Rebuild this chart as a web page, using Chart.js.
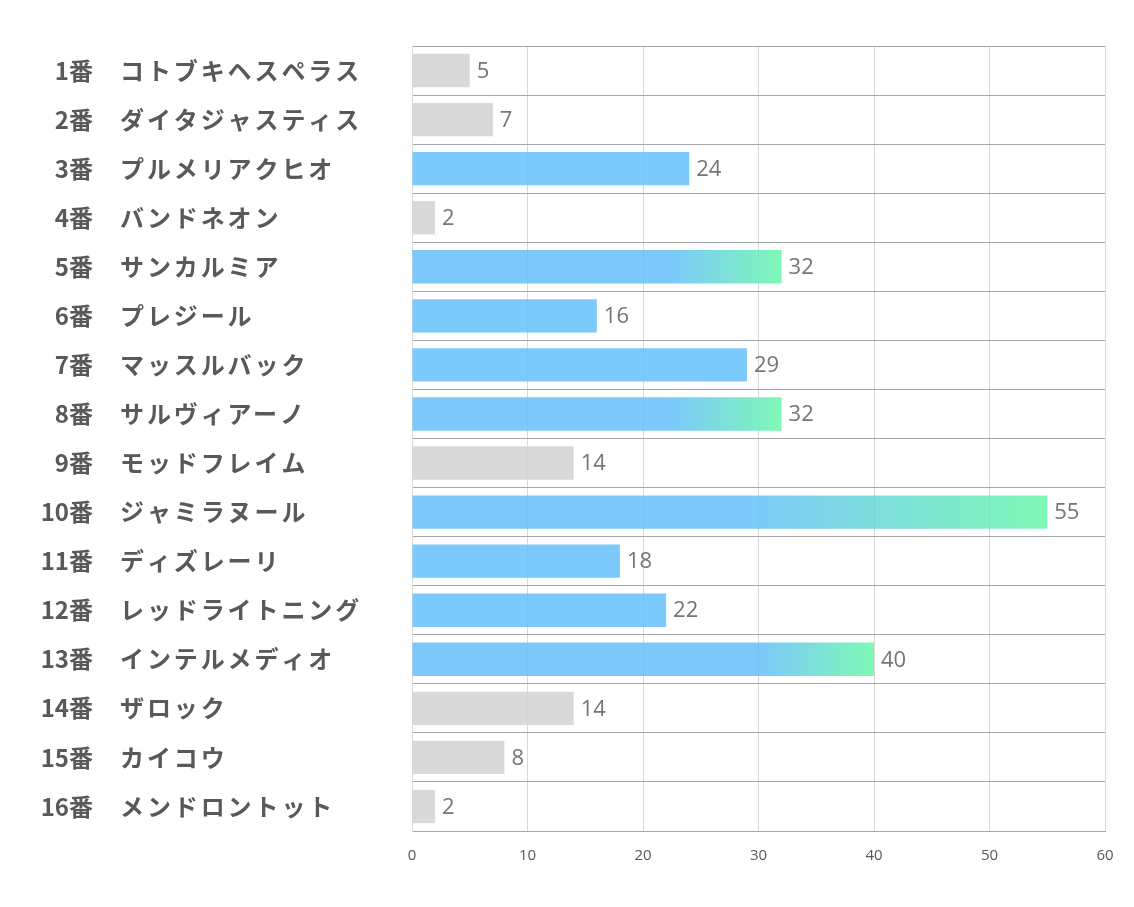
<!DOCTYPE html>
<html><head><meta charset="utf-8">
<script src="https://cdn.jsdelivr.net/npm/chart.js@4"></script>
<style>html,body{margin:0;padding:0;background:#fff}#wrap{width:1134px;height:907px}</style>
</head><body><div id="wrap"><canvas id="c" width="1134" height="907"></canvas></div>
<script>
const numbers = ['1番','2番','3番','4番','5番','6番','7番','8番','9番','10番','11番','12番','13番','14番','15番','16番'];
const names = ['コトブキヘスペラス','ダイタジャスティス','プルメリアクヒオ','バンドネオン','サンカルミア','プレジール','マッスルバック','サルヴィアーノ','モッドフレイム','ジャミラヌール','ディズレーリ','レッドライトニング','インテルメディオ','ザロック','カイコウ','メンドロントット'];
const values = [5,7,24,2,32,16,29,32,14,55,18,22,40,14,8,2];
const xTicks = [0,10,20,30,40,50,60];
// style: 0 gray, 1 blue, 2 blue→green gradient
const barStyle = [0,0,1,0,2,1,1,2,0,2,1,1,2,0,0,0];
const gradStart = {4:0.70, 7:0.70, 9:0.52, 12:0.75};

const GRAY='rgba(210,210,210,0.85)', BLUE='rgba(101,191,250,0.85)', GREEN='rgba(104,247,169,0.85)';
const JP = '"Noto Sans CJK JP","Noto Sans",sans-serif';

const labelPlugin = {
  id:'labels',
  afterDraw(chart){
    const ctx = chart.ctx, ys = chart.scales.y, xs = chart.scales.x;
    ctx.save();
    ctx.textBaseline='middle';
    ctx.fillStyle='#595959';
    ctx.font='bold 24px '+JP;
    numbers.forEach((n,i)=>{
      const y = ys.getPixelForValue(i);
      ctx.textAlign='right';
      ctx.letterSpacing='0px';
      ctx.fillText(n, 93, y);
      ctx.textAlign='left';
      ctx.letterSpacing='2.9px';
      ctx.fillText(names[i], 120, y);
    });
    ctx.letterSpacing='0px';
    ctx.font='22px "Open Sans",sans-serif';
    ctx.fillStyle='#757575';
    ctx.textAlign='left';
    values.forEach((v,i)=>{
      const y = ys.getPixelForValue(i);
      ctx.fillText(String(v), xs.getPixelForValue(v)+7, y+1);
    });
    ctx.restore();
  }
};

new Chart(document.getElementById('c'), {
  type:'bar',
  data:{labels:names, datasets:[{
    data:values,
    barPercentage:0.68, categoryPercentage:1.0,
    backgroundColor(ctx){
      const i = ctx.dataIndex, s = barStyle[i];
      if (s===0) return GRAY;
      if (s===1) return BLUE;
      const chart = ctx.chart, xs = chart.scales.x;
      if (!chart.chartArea || !xs) return BLUE;
      const x0 = xs.getPixelForValue(0), x1 = xs.getPixelForValue(values[i]);
      if (!isFinite(x0)||!isFinite(x1)||x1<=x0) return BLUE;
      const g = chart.ctx.createLinearGradient(x0,0,x1,0);
      g.addColorStop(0,BLUE); g.addColorStop(gradStart[i],BLUE); g.addColorStop(1,GREEN);
      return g;
    },
    borderWidth:0
  }]},
  options:{
    indexAxis:'y', responsive:false, animation:false,
    layout:{padding:{left:412,right:29,top:46,bottom:26}},
    plugins:{legend:{display:false},tooltip:{enabled:false}},
    scales:{
      x:{min:0,max:60,
        afterBuildTicks(scale){scale.ticks = xTicks.map(v=>({value:v}));},
        grid:{color:'#d9d9d9',lineWidth:1,drawTicks:false},
        border:{display:true,color:'#a6a6a6',width:1},
        ticks:{color:'#595959',font:{size:15,family:'"Open Sans",sans-serif'},padding:16,maxRotation:0}
      },
      y:{
        grid:{offset:true,color:'#a6a6a6',lineWidth:1,drawTicks:false},
        border:{display:true,color:'#d9d9d9',width:1},
        ticks:{display:false}
      }
    }
  },
  plugins:[labelPlugin]
});
</script></body></html>
